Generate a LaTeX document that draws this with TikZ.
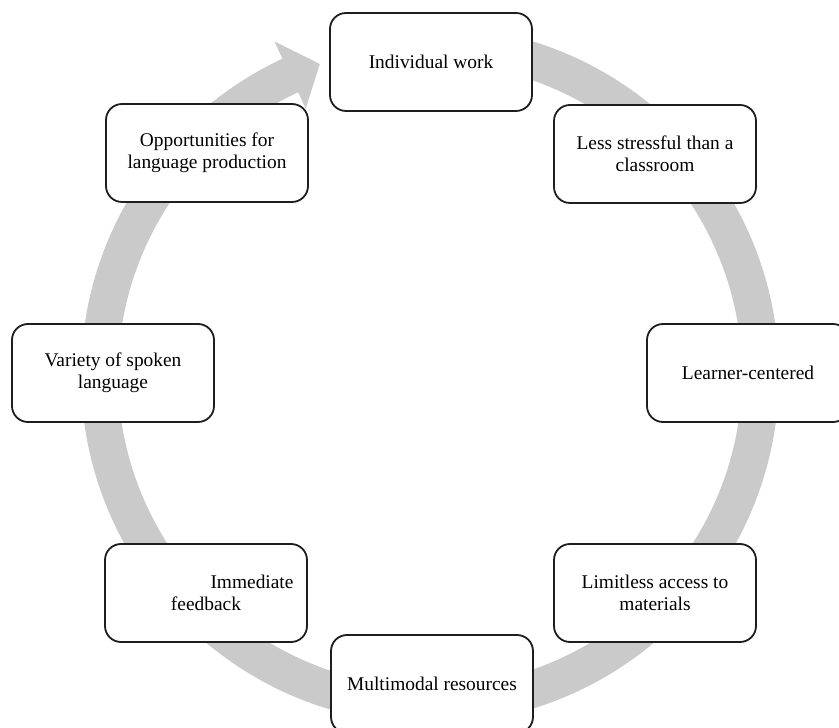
\documentclass[tikz,border=0pt]{standalone}
\usepackage{fontspec}
\setmainfont{Liberation Serif}
\usepackage{tikz}
\usetikzlibrary{positioning,calc}
\definecolor{ringgray}{RGB}{202,202,202}
\definecolor{boxline}{RGB}{30,30,30}
\tikzset{
  stage/.style={draw=boxline, line width=0.9pt, fill=white, rounded corners=8pt,
    minimum width=101pt, minimum height=49pt, align=center,
    font=\fontsize{9.7}{11}\selectfont},
}
\begin{document}
\begin{tikzpicture}[x=0.5pt,y=0.5pt]
\useasboundingbox (-430,-352) rectangle (409,375);
% continuous cycle arrow
\fill[ringgray] (90:349) arc[start angle=90, end angle=-245, radius=349]
  -- (-245:368) -- (-250.5:330) -- (-245:294) -- (-245:312)
  arc[start angle=-245, end angle=90, radius=312] -- cycle;

\node[stage] (work)     at (1,313)    {Individual work};
\node[stage] (stress)   at (225,221)  {Less stressful than a\\classroom};
\node[stage] (learner)  at (318,2)    {Learner-centered};
\node[stage] (access)   at (225,-218) {Limitless access to\\materials};
\node[stage] (multi)    at (2,-309)   {Multimodal resources};
\node[stage] (feedback) at (-224,-218) {\hspace*{46pt}Immediate\\feedback};
\node[stage] (variety)  at (-317,2)   {Variety of spoken\\language};
\node[stage] (produce)  at (-223,222) {Opportunities for\\language production};
\end{tikzpicture}
\end{document}
